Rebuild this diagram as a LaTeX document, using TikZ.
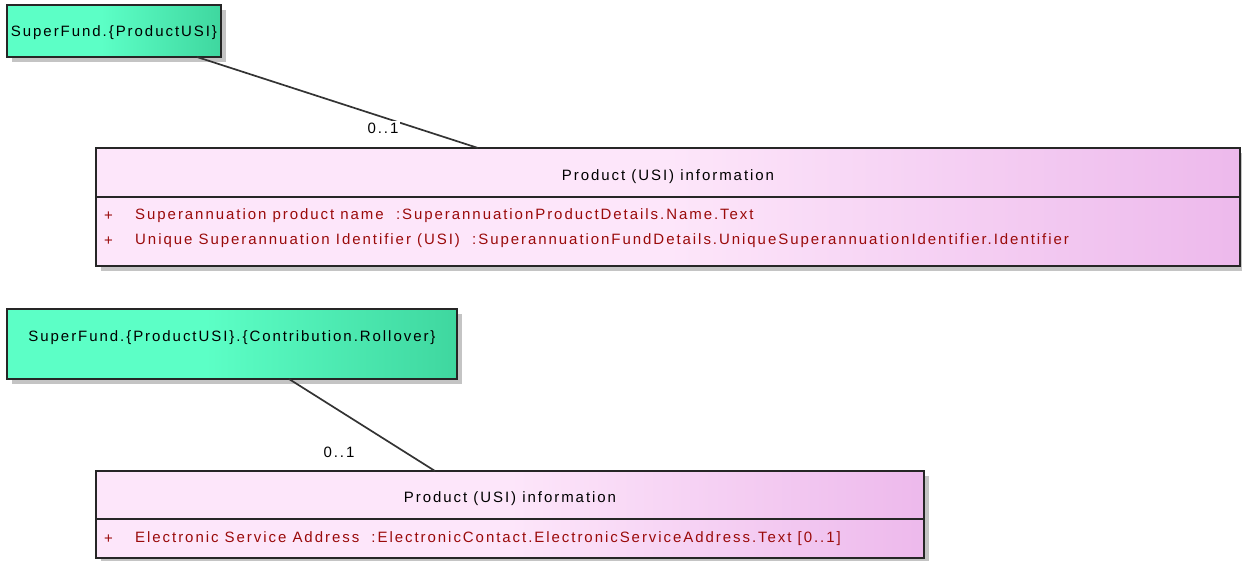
\documentclass[tikz,border=0pt]{standalone}
\usepackage{fontspec}
\setmainfont{Liberation Sans}[LetterSpace=13]
\usetikzlibrary{calc,shadows}
\definecolor{pkA}{HTML}{FDE6FA}
\definecolor{pkB}{HTML}{EDB9EC}
\definecolor{gnA}{HTML}{5CFFC6}
\definecolor{gnB}{HTML}{3FD79F}
\definecolor{attrred}{HTML}{9A0A0A}
\definecolor{shadowgray}{HTML}{C4C4C4}
\pgfdeclarehorizontalshading{pinkshade}{100bp}{color(0bp)=(pkA); color(50bp)=(pkA); color(75bp)=(pkB); color(100bp)=(pkB)}
\pgfdeclarehorizontalshading{greenshade}{100bp}{color(0bp)=(gnA); color(47bp)=(gnA); color(75bp)=(gnB); color(100bp)=(gnB)}
\tikzset{
  boxshadow/.style={drop shadow={shadow xshift=5pt,shadow yshift=-5pt,fill=shadowgray,opacity=1}},
  greenbox/.style={draw=black!85,line width=1.8pt,shading=greenshade,boxshadow,anchor=north west,inner sep=0pt,outer sep=0pt},
  classbox/.style={draw=black!85,line width=1.8pt,shading=pinkshade,boxshadow,anchor=north west,inner sep=0pt,outer sep=0pt},
  txt/.style={font=\fontsize{15}{17}\selectfont,inner sep=0pt,text=black},
  attr/.style={font=\fontsize{15}{17}\selectfont,inner sep=0pt,text=attrred,anchor=west},
  mult/.style={font=\fontsize{15}{17}\selectfont,inner sep=2pt,text=black},
  assoc/.style={draw=black!80,line width=1.7pt},
  divider/.style={draw=black!85,line width=1.5pt}
}
\begin{document}
\begin{tikzpicture}[x=1pt,y=-1pt]
\useasboundingbox (0,0) rectangle (1242,561);
% top pair
\node[greenbox,minimum width=214pt,minimum height=52pt] (g1) at (7,5) {};
\node[txt] (g1t) at ($(g1.north)+(0,28)$) {SuperFund.\{ProductUSI\}};
\node[classbox,minimum width=1144pt,minimum height=118pt] (p1) at (96,148) {};
\draw[divider] ($(p1.north west)+(0,49)$) -- ($(p1.north east)+(0,49)$);
\node[txt] (p1t) at ($(p1.north)+(0,29)$) {Product (USI) information};
\node[attr] (p1a1p) at ($(p1.north west)+(8,68)$) {+};
\node[attr] (p1a1) at ($(p1.north west)+(39,68)$) {Superannuation product name\ \ :SuperannuationProductDetails.Name.Text};
\node[attr] (p1a2p) at ($(p1.north west)+(8,93)$) {+};
\node[attr] (p1a2) at ($(p1.north west)+(39,93)$) {Unique Superannuation Identifier (USI)\ \ :SuperannuationFundDetails.UniqueSuperannuationIdentifier.Identifier};
\draw[assoc] ($(g1.south west)+(190,0)$) coordinate (c1a) -- ($(p1.north west)+(382,0)$) coordinate (c1b);
\node[mult,fill=white] (m1) at (383,128) {0..1};
% bottom pair
\node[greenbox,minimum width=450pt,minimum height=70pt] (g2) at (7,309) {};
\node[txt] (g2t) at ($(g2.north)+(0,29)$) {SuperFund.\{ProductUSI\}.\{Contribution.Rollover\}};
\node[classbox,minimum width=828pt,minimum height=87pt] (p2) at (96,471) {};
\draw[divider] ($(p2.north west)+(0,48)$) -- ($(p2.north east)+(0,48)$);
\node[txt] (p2t) at ($(p2.north)+(0,28)$) {Product (USI) information};
\node[attr] (p2a1p) at ($(p2.north west)+(8,68)$) {+};
\node[attr] (p2a1) at ($(p2.north west)+(39,68)$) {Electronic Service Address\ \ :ElectronicContact.ElectronicServiceAddress.Text [0..1]};
\draw[assoc] ($(g2.south west)+(282,0)$) coordinate (c2a) -- ($(p2.north west)+(339,0)$) coordinate (c2b);
\node[mult] (m2) at (339,452) {0..1};
\end{tikzpicture}
\end{document}
